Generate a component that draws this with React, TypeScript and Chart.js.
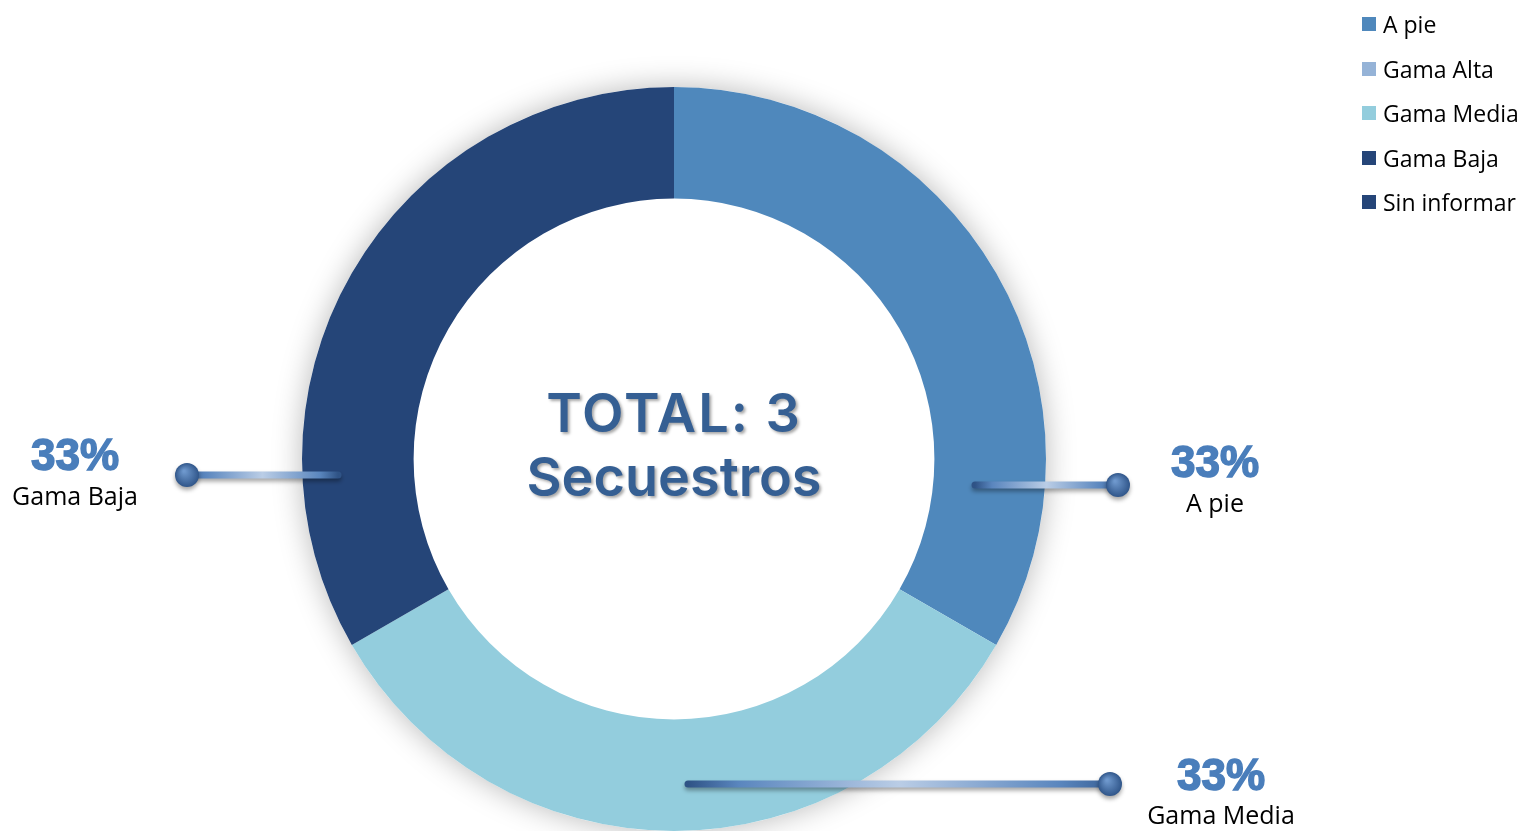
import React, { useEffect, useRef } from "react";
import { Chart, registerables } from "chart.js";

Chart.register(...registerables);

const categories = ["A pie", "Gama Alta", "Gama Media", "Gama Baja", "Sin informar"];
const values = [1, 0, 1, 1, 0];
const colors = ["#4F88BC", "#95B3D7", "#93CDDD", "#254578", "#254578"];
const centerTitle = "TOTAL: 3";
const centerSubtitle = "Secuestros";

// callout layout (offsets relative to doughnut centre, px)
const callouts = [
  { index: 0, lineStart: 301, dot: 444, lineDy: 26, textDx: 541, pctDy: 18, labelDy: 53 },
  { index: 3, lineStart: -336, dot: -487, lineDy: 16, textDx: -599, pctDy: 11, labelDy: 46 },
  { index: 2, lineStart: 14, dot: 436, lineDy: 325, textDx: 547, pctDy: 331, labelDy: 365 },
];

const calloutPlugin = {
  id: "callouts",
  beforeDatasetsDraw(chart: any) {
    const meta = chart.getDatasetMeta(0);
    const arc = meta.data[0];
    if (!arc) return;
    const { x, y, outerRadius } = arc.getProps(["x", "y", "outerRadius"], true);
    const ctx = chart.ctx;
    ctx.save();
    ctx.shadowColor = "rgba(0,0,0,0.28)";
    ctx.shadowBlur = 30;
    ctx.fillStyle = "#ffffff";
    ctx.beginPath();
    ctx.arc(x, y, outerRadius, 0, Math.PI * 2);
    ctx.fill();
    ctx.restore();
  },
  afterDatasetsDraw(chart: any) {
    const meta = chart.getDatasetMeta(0);
    const arc = meta.data[0];
    if (!arc) return;
    const { x: cx, y: cy } = arc.getProps(["x", "y"], true);
    const ctx = chart.ctx;
    const total = values.reduce((a, b) => a + b, 0);

    // centre text
    ctx.save();
    ctx.textAlign = "center";
    ctx.textBaseline = "alphabetic";
    ctx.fillStyle = "#355F93";
    ctx.shadowColor = "rgba(0,0,0,0.35)";
    ctx.shadowBlur = 3;
    ctx.shadowOffsetX = 2;
    ctx.shadowOffsetY = 2;
    ctx.font = "600 54px Inter";
    (ctx as any).letterSpacing = "2px";
    ctx.fillText(centerTitle, cx, cy - 27);
    (ctx as any).letterSpacing = "0px";
    ctx.fillText(centerSubtitle, cx, cy + 37);
    ctx.restore();

    callouts.forEach((c) => {
      const x1 = cx + c.lineStart;
      const x2 = cx + c.dot;
      const ly = cy + c.lineDy;
      ctx.save();
      const g = ctx.createLinearGradient(x1, 0, x2, 0);
      g.addColorStop(0, "#2F5386");
      g.addColorStop(0.12, "#5A86BE");
      g.addColorStop(0.5, "#BACDE6");
      g.addColorStop(0.88, "#5A86BE");
      g.addColorStop(1, "#3A6298");
      ctx.shadowColor = "rgba(0,0,0,0.35)";
      ctx.shadowBlur = 4;
      ctx.shadowOffsetY = 3;
      ctx.strokeStyle = g;
      ctx.lineWidth = 7;
      ctx.lineCap = "round";
      ctx.beginPath();
      ctx.moveTo(x1, ly);
      ctx.lineTo(x2, ly);
      ctx.stroke();
      const rg = ctx.createRadialGradient(x2 - 3, ly - 4, 1, x2, ly, 12);
      rg.addColorStop(0, "#6E98CD");
      rg.addColorStop(1, "#30568A");
      ctx.fillStyle = rg;
      ctx.beginPath();
      ctx.arc(x2, ly, 12, 0, Math.PI * 2);
      ctx.fill();
      ctx.restore();

      const pct = Math.round((values[c.index] / total) * 100) + "%";
      ctx.save();
      ctx.textAlign = "center";
      ctx.textBaseline = "alphabetic";
      ctx.fillStyle = "#4A7EBB";
      ctx.strokeStyle = "#4A7EBB";
      ctx.lineWidth = 1.5;
      ctx.font = "bold 44px 'Liberation Sans'";
      ctx.fillText(pct, cx + c.textDx, cy + c.pctDy);
      ctx.strokeText(pct, cx + c.textDx, cy + c.pctDy);
      ctx.fillStyle = "#000000";
      ctx.font = "25px 'Open Sans'";
      ctx.fillText(categories[c.index], cx + c.textDx, cy + c.labelDy);
      ctx.restore();
    });
  },
};

export default function App() {
  const canvasRef = useRef<HTMLCanvasElement | null>(null);

  useEffect(() => {
    if (!canvasRef.current) return;
    const chart = new Chart(canvasRef.current, {
      type: "doughnut",
      data: {
        labels: categories,
        datasets: [
          {
            data: values,
            backgroundColor: colors,
            borderWidth: 0,
            hoverOffset: 0,
          },
        ],
      },
      options: {
        responsive: true,
        maintainAspectRatio: false,
        animation: false,
        cutout: "70%",
        layout: { padding: { top: 87, bottom: 0, left: 302, right: 478 } },
        plugins: {
          legend: { display: false },
          tooltip: { enabled: false },
        },
      },
      plugins: [calloutPlugin],
    });
    return () => chart.destroy();
  }, []);

  return (
    <div style={{ position: "fixed", left: 0, top: 0, width: 1524, height: 831, background: "#fff" }}>
      <canvas ref={canvasRef} />
      <div style={{ position: "absolute", left: 1362, top: 0 }}>
        {categories.map((c, i) => (
          <div
            key={c}
            style={{
              position: "absolute",
              left: 0,
              top: 24 + i * 44.5 - 16,
              height: 32,
              display: "flex",
              alignItems: "center",
              whiteSpace: "nowrap",
              fontFamily: "'Open Sans'",
              fontSize: 23,
              color: "#000",
            }}
          >
            <span style={{ display: "inline-block", width: 14, height: 14, background: colors[i], marginRight: 7 }} />
            {c}
          </div>
        ))}
      </div>
    </div>
  );
}
